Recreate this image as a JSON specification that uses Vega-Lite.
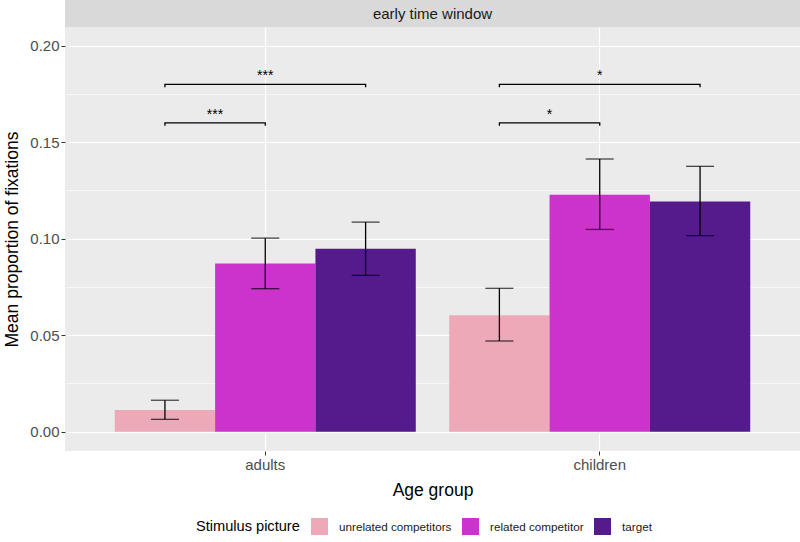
{
  "$schema": "https://vega.github.io/schema/vega-lite/v6.json",
  "padding": {"left": 3, "top": 0, "right": 0, "bottom": 0},
  "background": "white",
  "spacing": 0,
  "config": {
    "font": "Liberation Sans",
    "view": {"stroke": null},
    "axis": {
      "domain": false,
      "gridColor": "white",
      "tickColor": "#333333",
      "tickSize": 4,
      "labelColor": "#4D4D4D",
      "labelFontSize": 15,
      "labelPadding": 2,
      "titleFontSize": 17.5,
      "titleFontWeight": "normal",
      "titleColor": "black"
    }
  },
  "datasets": {
    "bars": [
      {"age": "adults", "stim": "unrelated competitors", "mean": 0.0112, "lo": 0.0064, "hi": 0.0163},
      {"age": "adults", "stim": "related competitor", "mean": 0.0872, "lo": 0.0741, "hi": 0.1003},
      {"age": "adults", "stim": "target", "mean": 0.0948, "lo": 0.0810, "hi": 0.1086},
      {"age": "children", "stim": "unrelated competitors", "mean": 0.0604, "lo": 0.0470, "hi": 0.0743},
      {"age": "children", "stim": "related competitor", "mean": 0.1228, "lo": 0.1048, "hi": 0.1413},
      {"age": "children", "stim": "target", "mean": 0.1193, "lo": 0.1016, "hi": 0.1375}
    ],
    "brackets": [
      {"age": "adults", "stim": "unrelated competitors", "bracket": "a1", "y": 0.1585, "pt": 1},
      {"age": "adults", "stim": "unrelated competitors", "bracket": "a1", "y": 0.16, "pt": 2},
      {"age": "adults", "stim": "related competitor", "bracket": "a1", "y": 0.16, "pt": 3},
      {"age": "adults", "stim": "related competitor", "bracket": "a1", "y": 0.1585, "pt": 4},
      {"age": "adults", "stim": "unrelated competitors", "bracket": "a2", "y": 0.1785, "pt": 1},
      {"age": "adults", "stim": "unrelated competitors", "bracket": "a2", "y": 0.18, "pt": 2},
      {"age": "adults", "stim": "target", "bracket": "a2", "y": 0.18, "pt": 3},
      {"age": "adults", "stim": "target", "bracket": "a2", "y": 0.1785, "pt": 4},
      {"age": "children", "stim": "unrelated competitors", "bracket": "c1", "y": 0.1585, "pt": 1},
      {"age": "children", "stim": "unrelated competitors", "bracket": "c1", "y": 0.16, "pt": 2},
      {"age": "children", "stim": "related competitor", "bracket": "c1", "y": 0.16, "pt": 3},
      {"age": "children", "stim": "related competitor", "bracket": "c1", "y": 0.1585, "pt": 4},
      {"age": "children", "stim": "unrelated competitors", "bracket": "c2", "y": 0.1785, "pt": 1},
      {"age": "children", "stim": "unrelated competitors", "bracket": "c2", "y": 0.18, "pt": 2},
      {"age": "children", "stim": "target", "bracket": "c2", "y": 0.18, "pt": 3},
      {"age": "children", "stim": "target", "bracket": "c2", "y": 0.1785, "pt": 4}
    ],
    "sigLong": [
      {"age": "adults", "stim": "related competitor", "label": "***", "ty": 0.1822},
      {"age": "children", "stim": "related competitor", "label": "*", "ty": 0.1822}
    ],
    "sigShort": [
      {"age": "adults", "stim": "unrelated competitors", "label": "***", "ty": 0.1622},
      {"age": "children", "stim": "unrelated competitors", "label": "*", "ty": 0.1622}
    ]
  },
  "resolve": {"scale": {"color": "independent"}, "legend": {"color": "independent"}},
  "vconcat": [
    {
      "width": 735,
      "height": 27,
      "view": {"fill": "#D9D9D9", "stroke": null},
      "data": {"values": [{"panel": "early time window"}]},
      "mark": {"type": "text", "fontSize": 15, "color": "#1A1A1A"},
      "encoding": {"text": {"field": "panel"}}
    },
    {
      "width": 735,
      "height": 424,
      "view": {"fill": "#EBEBEB", "stroke": null},
      "encoding": {
        "x": {
          "field": "age",
          "type": "nominal",
          "scale": {"paddingInner": 0.1, "paddingOuter": 0.1488},
          "axis": {"title": "Age group", "labelAngle": 0, "grid": true, "gridWidth": 1.2, "titlePadding": 9}
        },
        "xOffset": {
          "field": "stim",
          "type": "nominal",
          "sort": ["unrelated competitors", "related competitor", "target"],
          "scale": {"paddingInner": 0, "paddingOuter": 0}
        }
      },
      "resolve": {"axis": {"y": "independent"}},
      "layer": [
        {
          "data": {"name": "bars"},
          "mark": {"type": "bar"},
          "encoding": {
            "y": {
              "field": "mean",
              "type": "quantitative",
              "scale": {"domain": [-0.01, 0.2097], "nice": false, "zero": false},
              "axis": {"orient": "left", "values": [0.025, 0.075, 0.125, 0.175], "grid": true, "gridWidth": 0.6, "labels": false, "ticks": false, "title": null, "domain": false}
            },
            "y2": {"datum": 0},
            "color": {
              "field": "stim",
              "type": "nominal",
              "scale": {"domain": ["unrelated competitors", "related competitor", "target"], "range": ["#EEA9B8", "#CC33CC", "#551A8B"]},
              "legend": {
                "title": "Stimulus picture",
                "orient": "none",
                "legendX": 131,
                "legendY": 491,
                "direction": "horizontal",
                "titleOrient": "left",
                "symbolType": "square",
                "symbolSize": 289,
                "symbolStrokeWidth": 0,
                "labelFontSize": 11.7,
                "labelColor": "#1A1A1A",
                "titleFontSize": 14.6,
                "titleFontWeight": "normal",
                "titleColor": "black",
                "columnPadding": 10,
                "labelOffset": 11,
                "titlePadding": 11
              }
            }
          }
        },
        {
          "data": {"name": "bars"},
          "mark": {"type": "rule", "color": "black", "strokeWidth": 1.3},
          "encoding": {
            "y": {
              "field": "lo",
              "type": "quantitative",
              "scale": {"domain": [-0.01, 0.2097], "nice": false, "zero": false},
              "axis": {"orient": "left", "values": [0, 0.05, 0.1, 0.15, 0.2], "format": ".2f", "grid": true, "gridWidth": 1.2, "title": "Mean proportion of fixations", "titlePadding": 8}
            },
            "y2": {"field": "hi"}
          }
        },
        {
          "data": {"name": "bars"},
          "mark": {"type": "tick", "orient": "horizontal", "size": 28, "thickness": 1.3, "color": "black"},
          "encoding": {
            "y": {"field": "lo", "type": "quantitative", "scale": {"domain": [-0.01, 0.2097], "nice": false, "zero": false}, "axis": null}
          }
        },
        {
          "data": {"name": "bars"},
          "mark": {"type": "tick", "orient": "horizontal", "size": 28, "thickness": 1.3, "color": "black"},
          "encoding": {
            "y": {"field": "hi", "type": "quantitative", "scale": {"domain": [-0.01, 0.2097], "nice": false, "zero": false}, "axis": null}
          }
        },
        {
          "data": {"name": "brackets"},
          "mark": {"type": "line", "color": "black", "strokeWidth": 1.3},
          "encoding": {
            "y": {"field": "y", "type": "quantitative", "scale": {"domain": [-0.01, 0.2097], "nice": false, "zero": false}, "axis": null},
            "detail": {"field": "bracket"},
            "order": {"field": "pt"}
          }
        },
        {
          "data": {"name": "sigLong"},
          "mark": {"type": "text", "fontSize": 14, "baseline": "alphabetic", "color": "black"},
          "encoding": {
            "y": {"field": "ty", "type": "quantitative", "scale": {"domain": [-0.01, 0.2097], "nice": false, "zero": false}, "axis": null},
            "text": {"field": "label"}
          }
        },
        {
          "data": {"name": "sigShort"},
          "mark": {"type": "text", "fontSize": 14, "baseline": "alphabetic", "color": "black", "dx": 50},
          "encoding": {
            "y": {"field": "ty", "type": "quantitative", "scale": {"domain": [-0.01, 0.2097], "nice": false, "zero": false}, "axis": null},
            "text": {"field": "label"}
          }
        }
      ]
    }
  ]
}
